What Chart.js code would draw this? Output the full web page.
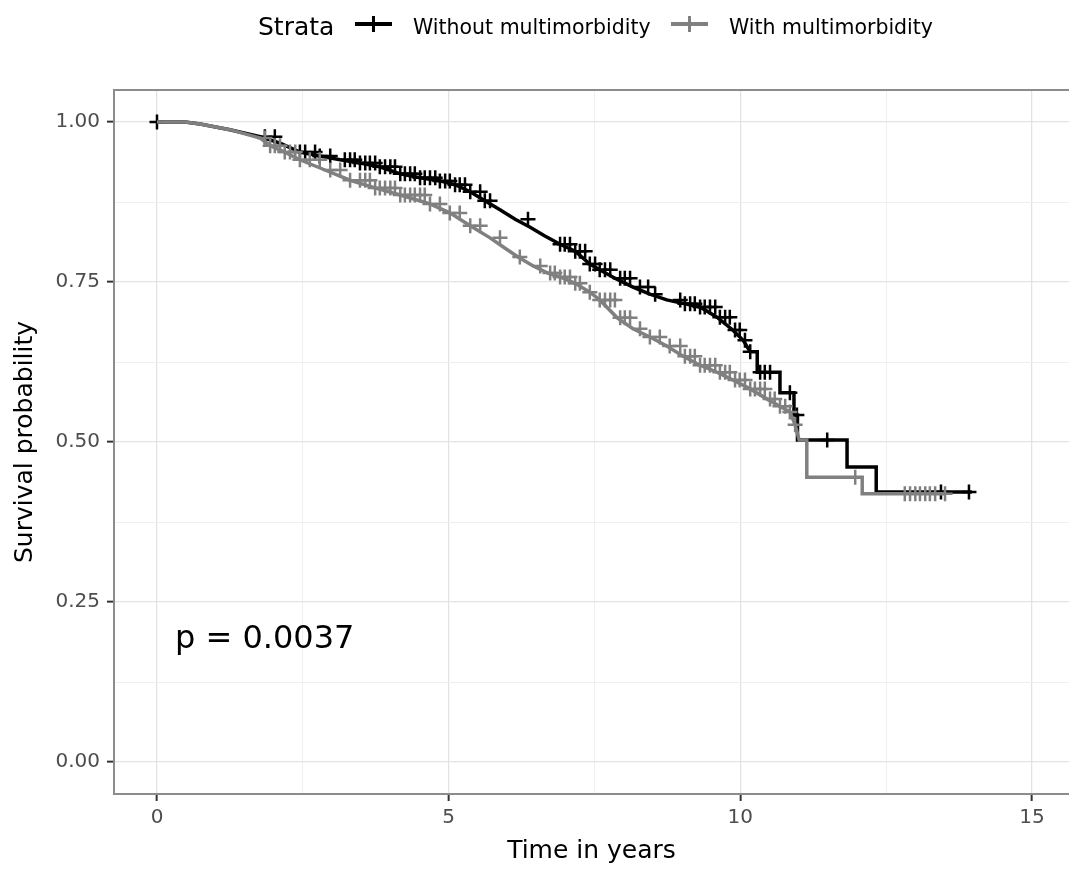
<!DOCTYPE html>
<html lang="en">
<head>
<meta charset="UTF-8">
<title>Survival by multimorbidity</title>
<script src="https://cdn.jsdelivr.net/npm/chart.js@4.4.0/dist/chart.umd.min.js"></script>
<style>
  body { margin: 0; background: #fff; }
  .wrap { position: relative; width: 1069px; height: 872px; font-family: "DejaVu Sans", sans-serif; }
  .lg { position: absolute; white-space: nowrap; color: #000; }
  .key { position: absolute; }
</style>
</head>
<body>
<div class="wrap">
  <canvas id="km" width="1069" height="872"></canvas>

  <div class="lg" style="left:258px;top:14px;font-size:25px;line-height:25px">Strata</div>
  <div class="key" style="left:355px;top:22px;width:37px;height:4px;background:#000"></div>
  <div class="key" style="left:372px;top:16px;width:2.5px;height:16px;background:#000"></div>
  <div class="lg" style="left:413px;top:17px;font-size:20.5px;line-height:20px">Without multimorbidity</div>
  <div class="key" style="left:671px;top:22px;width:37px;height:4px;background:#808080"></div>
  <div class="key" style="left:688px;top:16px;width:2.5px;height:16px;background:#808080"></div>
  <div class="lg" style="left:729px;top:17px;font-size:20.5px;line-height:20px">With multimorbidity</div>

  <div class="lg" style="left:175px;top:621px;font-size:32px;line-height:32px">p = 0.0037</div>
</div>

<script>
const FONT = '"DejaVu Sans", sans-serif';

// Kaplan-Meier steps (time in years, survival)
const withoutTime = [0, 0.48, 0.74, 1.25, 1.77, 2.11, 2.45, 2.79, 3.14, 3.48, 3.82, 4.17, 4.51, 4.85, 5.11, 5.37, 5.62, 5.88, 6.14, 6.39, 6.65, 6.91, 7.17, 7.42, 7.59, 7.85, 8.16, 8.45, 8.74, 9.05, 9.31, 9.60, 9.87, 10.05, 10.17, 10.29, 10.68, 10.92, 10.98, 11.83, 12.33, 13.97];
const withoutSurv = [1.000, 1.000, 0.997, 0.988, 0.977, 0.967, 0.953, 0.947, 0.941, 0.936, 0.930, 0.919, 0.913, 0.908, 0.902, 0.891, 0.877, 0.863, 0.848, 0.836, 0.822, 0.809, 0.798, 0.778, 0.769, 0.756, 0.742, 0.731, 0.722, 0.716, 0.711, 0.695, 0.675, 0.659, 0.641, 0.609, 0.577, 0.542, 0.503, 0.461, 0.422, 0.422];
const withoutCensor = [0, 1.85, 2.02, 2.45, 2.54, 2.71, 2.79, 2.97, 3.22, 3.31, 3.39, 3.48, 3.57, 3.65, 3.74, 3.82, 3.91, 4.00, 4.08, 4.17, 4.25, 4.34, 4.42, 4.51, 4.59, 4.68, 4.77, 4.85, 4.94, 5.02, 5.11, 5.19, 5.28, 5.37, 5.54, 5.62, 5.71, 6.36, 6.91, 6.99, 7.08, 7.17, 7.25, 7.34, 7.42, 7.51, 7.59, 7.68, 7.77, 7.94, 8.02, 8.11, 8.28, 8.42, 8.54, 8.97, 9.05, 9.14, 9.22, 9.31, 9.39, 9.48, 9.57, 9.65, 9.74, 9.82, 9.91, 9.99, 10.08, 10.17, 10.34, 10.42, 10.51, 10.85, 10.97, 11.49, 13.44, 13.92];

const withTime = [0, 0.48, 0.74, 1.25, 1.77, 1.94, 2.19, 2.45, 2.88, 3.31, 3.74, 4.17, 4.68, 5.02, 5.37, 5.71, 5.93, 6.19, 6.45, 6.70, 6.91, 7.17, 7.42, 7.59, 7.89, 8.16, 8.45, 8.74, 9.02, 9.31, 9.60, 9.87, 10.17, 10.46, 10.68, 10.85, 10.94, 11.01, 11.14, 12.09, 13.51];
const withSurv = [1.000, 1.000, 0.997, 0.988, 0.975, 0.963, 0.953, 0.941, 0.925, 0.909, 0.897, 0.886, 0.872, 0.858, 0.838, 0.819, 0.805, 0.789, 0.775, 0.764, 0.758, 0.748, 0.734, 0.722, 0.694, 0.677, 0.664, 0.650, 0.634, 0.620, 0.609, 0.597, 0.583, 0.567, 0.556, 0.547, 0.527, 0.503, 0.445, 0.419, 0.419];
const withCensor = [1.85, 1.94, 2.02, 2.11, 2.19, 2.28, 2.37, 2.45, 2.62, 2.79, 2.97, 3.14, 3.31, 3.48, 3.57, 3.65, 3.74, 3.82, 3.91, 4.00, 4.08, 4.17, 4.25, 4.34, 4.42, 4.51, 4.59, 4.68, 4.85, 5.02, 5.19, 5.37, 5.54, 5.88, 6.22, 6.57, 6.74, 6.82, 6.91, 6.99, 7.08, 7.17, 7.25, 7.42, 7.59, 7.68, 7.77, 7.85, 7.94, 8.02, 8.11, 8.28, 8.45, 8.62, 8.79, 8.97, 9.05, 9.14, 9.22, 9.31, 9.39, 9.48, 9.57, 9.65, 9.74, 9.82, 9.91, 9.99, 10.08, 10.17, 10.25, 10.34, 10.42, 10.51, 10.59, 10.68, 10.77, 10.85, 10.94, 11.97, 12.82, 12.91, 13.00, 13.08, 13.17, 13.25, 13.34, 13.51];

const xTicks = [0, 5, 10, 15];
const yTicks = [0, 0.25, 0.5, 0.75, 1];

// major ticks plus the minor gridlines halfway between them
function withMinor(major) {
    const out = [];
    major.forEach((v, i) => {
        out.push(v);
        if (i < major.length - 1) out.push((v + major[i + 1]) / 2);
    });
    return out;
}
const xGrid = withMinor(xTicks);
const yGrid = withMinor(yTicks);

// the many tiny steps read as a slope; big drops and long flats keep their corner
function curve(times, surv) {
    const pts = [];
    times.forEach((t, i) => {
        if (i > 0 && (surv[i - 1] - surv[i] >= 0.03 || t - times[i - 1] > 0.6)) {
            pts.push({x: t, y: surv[i - 1]});
        }
        pts.push({x: t, y: surv[i]});
    });
    return pts;
}

function survAt(times, surv, t) {
    let s = surv[0];
    for (let i = 0; i < times.length; i++) {
        if (times[i] <= t) s = surv[i];
    }
    return s;
}

function isMajor(list, v) {
    return list.some(m => Math.abs(m - v) < 1e-9);
}

const topBorder = {
    id: 'topBorder',
    afterDraw(chart) {
        const {ctx, chartArea: a} = chart;
        ctx.save();
        ctx.strokeStyle = '#8c8c8c';
        ctx.lineWidth = 2;
        ctx.beginPath();
        ctx.moveTo(a.left - 1, a.top);
        ctx.lineTo(a.right, a.top);
        ctx.stroke();
        ctx.restore();
    }
};

function gridOpts(majors) {
    return {
        color: c => isMajor(majors, c.tick.value) ? '#e3e3e3' : '#efefef',
        lineWidth: c => isMajor(majors, c.tick.value) ? 1.3 : 1,
        tickColor: c => isMajor(majors, c.tick.value) ? '#333333' : 'rgba(0,0,0,0)',
        tickLength: 7,
        tickWidth: 2
    };
}

new Chart(document.getElementById('km'), {
    type: 'line',
    data: {
        datasets: [
            {
                label: 'With multimorbidity censored',
                data: withCensor.map(t => ({x: t, y: survAt(withTime, withSurv, t)})),
                showLine: false,
                pointStyle: 'cross',
                pointRadius: 7.5,
                pointBorderWidth: 2.5,
                borderColor: '#808080',
                order: 0
            },
            {
                label: 'With multimorbidity',
                data: curve(withTime, withSurv),
                borderColor: '#808080',
                borderWidth: 3.5,
                pointRadius: 0,
                order: 1
            },
            {
                label: 'Without multimorbidity censored',
                data: withoutCensor.map(t => ({x: t, y: survAt(withoutTime, withoutSurv, t)})),
                showLine: false,
                pointStyle: 'cross',
                pointRadius: 7.5,
                pointBorderWidth: 2.5,
                borderColor: '#000000',
                order: 2
            },
            {
                label: 'Without multimorbidity',
                data: curve(withoutTime, withoutSurv),
                borderColor: '#000000',
                borderWidth: 3.5,
                pointRadius: 0,
                order: 3
            }
        ]
    },
    options: {
        responsive: false,
        devicePixelRatio: 1,
        animation: false,
        layout: {autoPadding: false, padding: {top: 90, right: 0, bottom: 0, left: 0}},
        plugins: {legend: {display: false}, tooltip: {enabled: false}},
        scales: {
            x: {
                type: 'linear',
                min: -0.737,
                max: 15.635,
                afterBuildTicks: s => { s.ticks = xGrid.map(v => ({value: v})); },
                afterFit: s => { s.height = 78; s.paddingLeft = 0; s.paddingRight = 0; },
                ticks: {
                    autoSkip: false,
                    maxRotation: 0,
                    padding: 5,
                    color: '#4d4d4d',
                    font: {family: FONT, size: 20},
                    callback: v => isMajor(xTicks, v) ? String(v) : ''
                },
                grid: gridOpts(xTicks),
                border: {color: '#8c8c8c', width: 2},
                title: {display: true, text: 'Time in years', color: '#000', font: {family: FONT, size: 25}, padding: {top: 0, bottom: 6}}
            },
            y: {
                type: 'linear',
                min: -0.05,
                max: 1.05,
                afterBuildTicks: s => { s.ticks = yGrid.map(v => ({value: v})); },
                afterFit: s => { s.width = 114; s.paddingTop = 0; s.paddingBottom = 0; },
                ticks: {
                    autoSkip: false,
                    padding: 7,
                    color: '#4d4d4d',
                    font: {family: FONT, size: 20},
                    callback: v => isMajor(yTicks, v) ? v.toFixed(2) : ''
                },
                grid: gridOpts(yTicks),
                border: {color: '#8c8c8c', width: 2},
                title: {display: true, text: 'Survival probability', color: '#000', font: {family: FONT, size: 25}, padding: {top: 10, bottom: 0}}
            }
        }
    },
    plugins: [topBorder]
});
</script>
</body>
</html>
